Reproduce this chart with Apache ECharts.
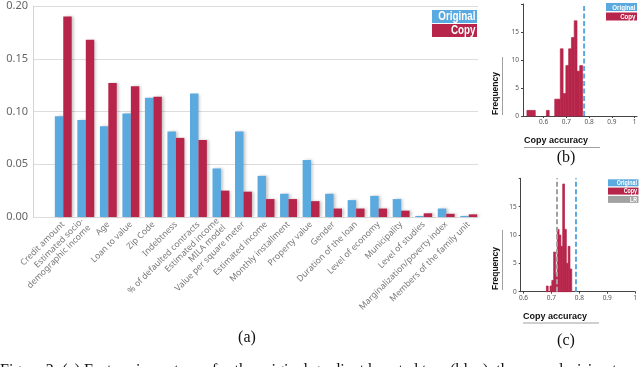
<!DOCTYPE html>
<html><head><meta charset="utf-8">
<script src="https://cdn.jsdelivr.net/npm/echarts@6/dist/echarts.min.js"></script>
<style>html,body{margin:0;padding:0;background:#fff}#c{width:640px;height:367px}</style>
</head><body><div id="c"></div>
<script>
// ---- Panel (a): feature importance ----
const features = ['Credit amount', 'Estimated socio-\ndemographic income', 'Age', 'Loan to value', 'Zip Code',
  'Indebtness', '% of defaulted contracts', 'Estimated income\nMILA model', 'Value per square meter',
  'Estimated income', 'Monthly installment', 'Property value', 'Gender', 'Duration of the loan',
  'Level of economy', 'Municipality', 'Level of studies', 'Marginalization/poverty index', 'Members of the family unit'];
const originalImp = [0.0955, 0.092, 0.086, 0.098, 0.113, 0.081, 0.117, 0.046, 0.081, 0.039, 0.022, 0.054, 0.022, 0.016, 0.020, 0.017, 0.001, 0.008, 0.001];
const copyImp = [0.190, 0.168, 0.127, 0.124, 0.114, 0.075, 0.073, 0.025, 0.024, 0.017, 0.017, 0.015, 0.008, 0.008, 0.008, 0.006, 0.0035, 0.003, 0.0025];
const impTicks = [0, 0.05, 0.10, 0.15, 0.20];

// ---- Panel (b): copy accuracy histogram ----
const binStartB = 0.5272;
const binWidthB = 0.0122;
const countsB = [1, 1, 1, 0, 0, 0, 0, 1, 0, 0, 3, 3, 12, 4, 9, 12, 14, 17, 8, 9];
const originalAccB = 0.778;

// ---- Panel (c): copy accuracy histogram ----
const binStartC = 0.682;
const binWidthC = 0.0065;
const countsC = [1, 0, 1, 2, 7, 3, 11, 10, 8, 19, 11, 5, 8, 4];
const originalAccC = 0.788;
const lrAccC = 0.72;

const accTicks = [0.6, 0.7, 0.8, 0.9, 1];
const freqTicks = [0, 5, 10, 15, 20];

const BLUE = '#5aaadf', RED = '#b7254b', GRAY = '#a2a2a2';
const SANS = 'Noto Sans';
const BOLD = 'Liberation Sans';
const SERIF = 'Liberation Serif';

function bins(start, w, counts) { return counts.map((c, i) => [start + i * w, start + (i + 1) * w, c]); }
function histItem(params, api) {
  const a = api.coord([api.value(0), 0]);
  const b = api.coord([api.value(1), api.value(2)]);
  const h = a[1] - b[1];
  if (h <= 0) return null;
  return { type: 'rect', shape: { x: a[0], y: b[1], width: b[0] - a[0], height: h },
    style: { fill: RED, stroke: RED, lineWidth: 0.7 } };
}
function accLabel(v) { return v === 1 ? '1' : v.toFixed(1); }

const histX = (gi, min, max) => ({
  type: 'value', gridIndex: gi, min: min, max: max,
  axisLine: { show: true, lineStyle: { color: '#444', width: 1 } },
  axisTick: { show: true, length: 2, customValues: accTicks, lineStyle: { color: '#444' } },
  axisLabel: { customValues: accTicks, formatter: accLabel, fontSize: 6.5, color: '#555', fontFamily: SANS, margin: 3 },
  splitLine: { show: false }
});
const histY = (gi) => ({
  type: 'value', gridIndex: gi, min: 0, max: freqTicks[freqTicks.length - 1], interval: 5,
  axisLine: { show: true, lineStyle: { color: '#444', width: 1 } },
  axisTick: { show: true, length: 2, lineStyle: { color: '#444' } },
  axisLabel: { formatter: v => v === 20 ? '' : String(v), fontSize: 6.5, color: '#555', fontFamily: SANS, margin: 4 },
  splitLine: { show: false }
});

function legend(x, y, w, h, gap, fs, items) {
  const ch = [];
  items.forEach((it, i) => {
    const yy = y + i * (h + gap);
    ch.push({ type: 'rect', shape: { x: x, y: yy, width: w, height: h }, style: { fill: it[1] } });
    ch.push({ type: 'text', x: x + w - 1.5, y: yy + h / 2 + 0.5, scaleX: 0.82, scaleY: 1,
      style: { x: 0, y: 0, text: it[0], fill: '#fff', font: 'bold ' + fs + 'px "' + BOLD + '"', textAlign: 'right', textVerticalAlign: 'middle' } });
  });
  return { type: 'group', children: ch };
}
function axisTitle(x, y, text, len, vertical) {
  if (!vertical) {
    return { type: 'group', children: [
      { type: 'text', style: { x: x, y: y, text: text, fill: '#111', font: 'bold 9px "' + BOLD + '"', textAlign: 'left', textVerticalAlign: 'bottom' } },
      { type: 'line', shape: { x1: x, y1: y + 2, x2: x + len, y2: y + 2 }, style: { stroke: '#888', lineWidth: 0.8 } }
    ] };
  }
  return { type: 'group', children: [
    { type: 'text', rotation: Math.PI / 2, x: x, y: y, style: { x: 0, y: 0, text: text, fill: '#111', font: 'bold 8.5px "' + BOLD + '"', textAlign: 'left', textVerticalAlign: 'bottom' } },
    { type: 'line', shape: { x1: x + 2, y1: y, x2: x + 2, y2: y - len }, style: { stroke: '#888', lineWidth: 0.8 } }
  ] };
}

const chart = echarts.init(document.getElementById('c'), null, { renderer: 'canvas' });
chart.setOption({
  animation: false,
  backgroundColor: '#fff',
  grid: [
    { left: 33, right: 162, top: 6, bottom: 150 },
    { left: 52, right: 160, top: 6, bottom: 150 },
    { left: 523, right: 3, top: 4, bottom: 251 },
    { left: 520.7, right: 3, top: 178.3, bottom: 75.3 }
  ],
  xAxis: [
    { type: 'value', gridIndex: 0, show: false, min: 0, max: 1 },
    { type: 'category', gridIndex: 1, data: features, boundaryGap: true,
      axisLine: { show: false }, axisTick: { show: false },
      axisLabel: { rotate: 45, interval: 0, fontSize: 8.6, color: '#777', fontFamily: SANS, margin: 6, lineHeight: 9.5 } },
    histX(2, 0.51, 1.01),
    histX(3, 0.59, 1.0)
  ],
  yAxis: [
    { type: 'value', gridIndex: 0, min: 0, max: 0.2, interval: 0.05,
      axisLine: { show: true, lineStyle: { color: '#d4d4d4' } }, axisTick: { show: false },
      axisLabel: { formatter: v => v.toFixed(2), fontSize: 11, color: '#666', fontFamily: SANS, margin: 5 },
      splitLine: { show: true, lineStyle: { color: '#dcdcdc', width: 1 } } },
    { type: 'value', gridIndex: 1, min: 0, max: 0.2, show: false },
    histY(2),
    histY(3)
  ],
  series: [
    { name: 'Original', type: 'bar', xAxisIndex: 1, yAxisIndex: 1, data: originalImp, barGap: '0%', barCategoryGap: '25%',
      itemStyle: { color: BLUE, shadowColor: 'rgba(0,0,0,0.22)', shadowBlur: 3, shadowOffsetX: 2 } },
    { name: 'Copy', type: 'bar', xAxisIndex: 1, yAxisIndex: 1, data: copyImp, barGap: '0%', barCategoryGap: '25%',
      itemStyle: { color: RED, shadowColor: 'rgba(0,0,0,0.22)', shadowBlur: 3, shadowOffsetX: 2 } },
    { name: 'Copy', type: 'custom', xAxisIndex: 2, yAxisIndex: 2, data: bins(binStartB, binWidthB, countsB),
      renderItem: histItem, encode: { x: [0, 1], y: 2 } },
    { name: 'Original', type: 'line', xAxisIndex: 2, yAxisIndex: 2, symbol: 'none', silent: true, z: 5,
      data: [[originalAccB, 0], [originalAccB, freqTicks[4]]], lineStyle: { color: BLUE, width: 2, type: [5, 2.5] } },
    { name: 'Copy', type: 'custom', xAxisIndex: 3, yAxisIndex: 3, data: bins(binStartC, binWidthC, countsC),
      renderItem: histItem, encode: { x: [0, 1], y: 2 } },
    { name: 'LR', type: 'line', xAxisIndex: 3, yAxisIndex: 3, symbol: 'none', silent: true, z: 5,
      data: [[lrAccC, 0], [lrAccC, freqTicks[4]]], lineStyle: { color: GRAY, width: 2, type: [5, 2.5] } },
    { name: 'Original', type: 'line', xAxisIndex: 3, yAxisIndex: 3, symbol: 'none', silent: true, z: 5,
      data: [[originalAccC, 0], [originalAccC, freqTicks[4]]], lineStyle: { color: BLUE, width: 2, type: [5, 2.5] } }
  ],
  graphic: [
    legend(432, 10, 45, 13, 1, 12, [['Original', BLUE], ['Copy', RED]]),
    legend(606, 3, 31, 8, 1.5, 7.5, [['Original', BLUE], ['Copy', RED]]),
    legend(608, 179.3, 30.5, 7, 1.3, 6.5, [['Original', BLUE], ['Copy', RED], ['LR', GRAY]]),
    axisTitle(524, 145.5, 'Copy accuracy', 76, false),
    axisTitle(500.5, 115, 'Frequency', 58, true),
    axisTitle(523, 321, 'Copy accuracy', 76, false),
    axisTitle(500.5, 290, 'Frequency', 60, true),
    { type: 'text', style: { x: 247, y: 338, text: '(a)', fill: '#111', font: '16px "' + SERIF + '"', textAlign: 'center', textVerticalAlign: 'middle' } },
    { type: 'text', style: { x: 566, y: 158, text: '(b)', fill: '#111', font: '16px "' + SERIF + '"', textAlign: 'center', textVerticalAlign: 'middle' } },
    { type: 'text', style: { x: 566, y: 341, text: '(c)', fill: '#111', font: '16px "' + SERIF + '"', textAlign: 'center', textVerticalAlign: 'middle' } },
    { type: 'text', style: { x: 0, y: 371, text: 'Figure 2: (a) Feature importance for the original gradient boosted tree (blue), the copy decision tree', fill: '#111', font: '16px "' + SERIF + '"', textAlign: 'left', textVerticalAlign: 'middle' } }
  ]
});
</script></body></html>
